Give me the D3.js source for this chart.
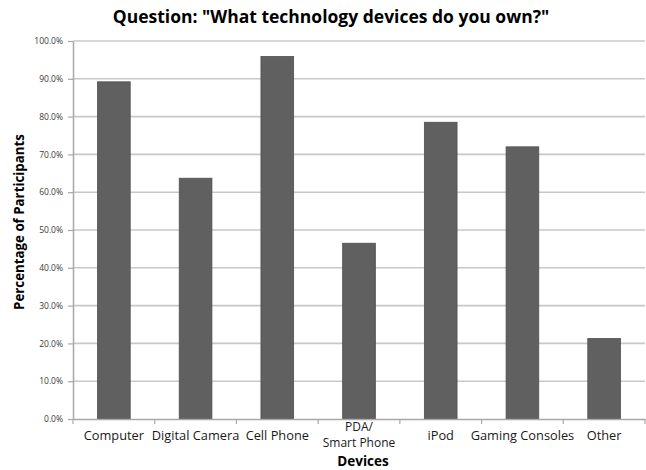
<!DOCTYPE html>
<html>
<head>
<meta charset="utf-8">
<script src="https://cdn.jsdelivr.net/npm/d3@7"></script>
<style>
  html, body { margin: 0; padding: 0; background: #fff; }
  svg { display: block; }
</style>
</head>
<body>
<div id="chart"></div>
<script>
// Survey results: share of participants owning each device
const categories = ["Computer", "Digital Camera", "Cell Phone", "PDA/\nSmart Phone", "iPod", "Gaming Consoles", "Other"];
const values = [89.2, 63.7, 95.9, 46.5, 78.5, 72.0, 21.3];
const yTicks = [0, 10, 20, 30, 40, 50, 60, 70, 80, 90, 100];

const width = 646, height = 470;
const margin = { top: 41, right: 1, bottom: 51, left: 73 };
const font = "'Open Sans', Lato, sans-serif";

const svg = d3.select("#chart").append("svg")
  .attr("width", width).attr("height", height);

const x = d3.scaleBand()
  .domain(categories)
  .range([margin.left, width - margin.right])
  .padding(0);

const y = d3.scaleLinear()
  .domain([0, 100])
  .range([height - margin.bottom, margin.top]);

// horizontal gridlines
svg.append("g")
  .selectAll("line")
  .data(yTicks.filter(d => d > 0))
  .join("line")
  .attr("x1", margin.left).attr("x2", width - margin.right)
  .attr("y1", d => y(d)).attr("y2", d => y(d))
  .attr("stroke", "#c8c8c8").attr("stroke-width", 1.6);

// y axis
const yAxis = svg.append("g")
  .attr("transform", `translate(${margin.left},0)`)
  .call(d3.axisLeft(y).tickValues(yTicks).tickSize(5).tickSizeOuter(0)
    .tickFormat(d => d.toFixed(1) + "%"));
yAxis.select(".domain").attr("stroke", "#a8a8a8").attr("stroke-width", 1.5);
yAxis.selectAll(".tick line").attr("stroke", "#a8a8a8").attr("stroke-width", 1.2);
yAxis.selectAll(".tick text")
  .attr("x", -10)
  .attr("font-family", font).attr("font-size", 8.5).attr("fill", "#3a3a3a");

// bars
const barW = x.bandwidth() * 0.4;
svg.append("g")
  .selectAll("rect")
  .data(values)
  .join("rect")
  .attr("x", (d, i) => x(categories[i]) + (x.bandwidth() - barW) / 2)
  .attr("y", d => y(d))
  .attr("width", barW)
  .attr("height", d => y(0) - y(d))
  .attr("fill", "#606060")
  .attr("stroke", "#4f4f4f").attr("stroke-width", 0.8);

// x axis
const xAxis = svg.append("g")
  .attr("transform", `translate(0,${y(0)})`)
  .call(d3.axisBottom(x).tickSize(0).tickFormat(""));
xAxis.select(".domain").attr("stroke", "#a8a8a8").attr("stroke-width", 1.5);

// category tick marks at band boundaries
svg.append("g")
  .selectAll("line")
  .data(categories.concat([null]))
  .join("line")
  .attr("x1", (d, i) => margin.left + i * x.step())
  .attr("x2", (d, i) => margin.left + i * x.step())
  .attr("y1", y(0)).attr("y2", y(0) + 5)
  .attr("stroke", "#a8a8a8").attr("stroke-width", 1.2);

// category labels (one text element per line)
const labelLines = [];
categories.forEach(c => {
  const lines = c.split("\n");
  lines.forEach((ln, k) => labelLines.push({
    cat: c, text: ln, multi: lines.length > 1,
    dy: lines.length > 1 ? 11.5 + k * 16.4 : 21
  }));
});
svg.append("g")
  .selectAll("text")
  .data(labelLines)
  .join("text")
  .attr("x", d => x(d.cat) + x.bandwidth() / 2)
  .attr("y", d => y(0) + d.dy)
  .attr("text-anchor", "middle")
  .attr("font-family", font).attr("font-size", d => d.multi ? 12 : 12.8)
  .attr("fill", "#1a1a1a")
  .text(d => d.text);

// axis titles
svg.append("text")
  .attr("x", (margin.left + width - margin.right) / 2 + 4)
  .attr("y", 466)
  .attr("text-anchor", "middle")
  .attr("font-family", font).attr("font-weight", "bold").attr("font-size", 13.5)
  .attr("fill", "#000")
  .text("Devices");

svg.append("text")
  .attr("transform", `translate(24,${(margin.top + height - margin.bottom) / 2 - 8}) rotate(-90)`)
  .attr("text-anchor", "middle")
  .attr("font-family", font).attr("font-weight", "bold").attr("font-size", 13.3)
  .attr("fill", "#000")
  .text("Percentage of Participants");

// chart title
svg.append("text")
  .attr("x", 331)
  .attr("y", 23)
  .attr("text-anchor", "middle")
  .attr("font-family", font).attr("font-weight", "bold").attr("font-size", 17.5)
  .attr("fill", "#000")
  .text('Question: "What technology devices do you own?"');
</script>
</body>
</html>
